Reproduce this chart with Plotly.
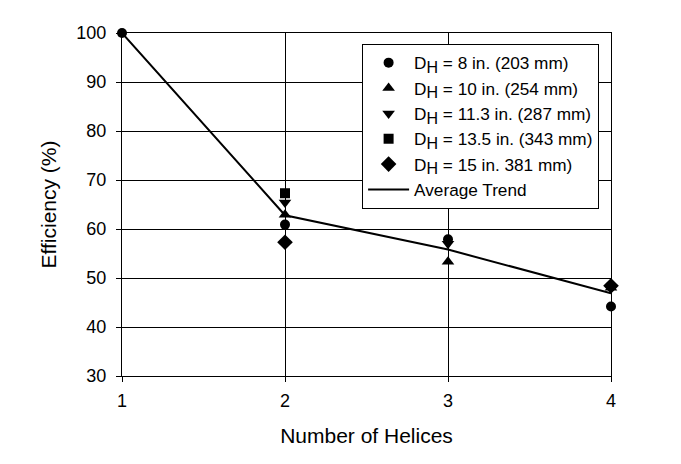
import plotly.graph_objects as go

helices = [1, 2, 3, 4]

s8_x = [1, 2, 3, 4]
s8_y = [100, 60.9, 57.9, 44.2]
s10_x = [2, 3, 4]
s10_y = [62.9, 53.3, 48.0]
s113_x = [2, 3]
s113_y = [65.4, 57.0]
s135_x = [2]
s135_y = [67.3]
s15_x = [2, 4]
s15_y = [57.3, 48.4]

trend_y = [100, 62.8, 55.8, 46.9]

SUB = "D<sub><span style='font-size:16px'>H</span></sub>"
series = [
    (SUB + " = 8 in. (203 mm)", s8_x, s8_y, "circle", 10),
    (SUB + " = 10 in. (254 mm)", s10_x, s10_y, "triangle-up", 11),
    (SUB + " = 11.3 in. (287 mm)", s113_x, s113_y, "triangle-down", 11),
    (SUB + " = 13.5 in. (343 mm)", s135_x, s135_y, "square", 10),
    (SUB + " = 15 in. 381 mm)", s15_x, s15_y, "diamond", 12),
]

fig = go.Figure()
for name, xs, ys, sym, sz in series:
    fig.add_trace(go.Scatter(x=xs, y=ys, mode="markers", name=name,
                             marker=dict(symbol=sym, size=sz, color="black"),
                             cliponaxis=False))
fig.add_trace(go.Scatter(x=helices, y=trend_y, mode="lines", name="Average Trend",
                         line=dict(color="black", width=2), cliponaxis=False))

font = "Liberation Sans, Arial, sans-serif"
fig.update_layout(
    width=681, height=464,
    margin=dict(l=114, r=78, t=25, b=96),
    paper_bgcolor="white", plot_bgcolor="white",
    font=dict(family=font, size=18, color="black"),
    showlegend=True,
    legend=dict(x=0.491, y=0.968, xanchor="left", yanchor="top",
                bgcolor="white", bordercolor="black", borderwidth=1,
                font=dict(family=font, size=17.2, color="black"),
                tracegroupgap=0, itemwidth=41),
    xaxis=dict(range=[1, 4], tickvals=helices, ticktext=[str(h) for h in helices],
               showgrid=True, gridcolor="black", gridwidth=1,
               showline=True, linecolor="black", linewidth=1, mirror=True,
               ticks="outside", ticklen=5, tickcolor="black", ticklabelstandoff=3,
               zeroline=False,
               title=dict(text="Number of Helices", font=dict(size=21), standoff=18)),
    yaxis=dict(range=[30, 100], dtick=10,
               showgrid=True, gridcolor="black", gridwidth=1,
               showline=True, linecolor="black", linewidth=1, mirror=True,
               ticks="outside", ticklen=5, tickcolor="black", ticklabelstandoff=6,
               zeroline=False,
               title=dict(text="Efficiency (%)", font=dict(size=21), standoff=14)),
)

fig.write_html("out.html")
